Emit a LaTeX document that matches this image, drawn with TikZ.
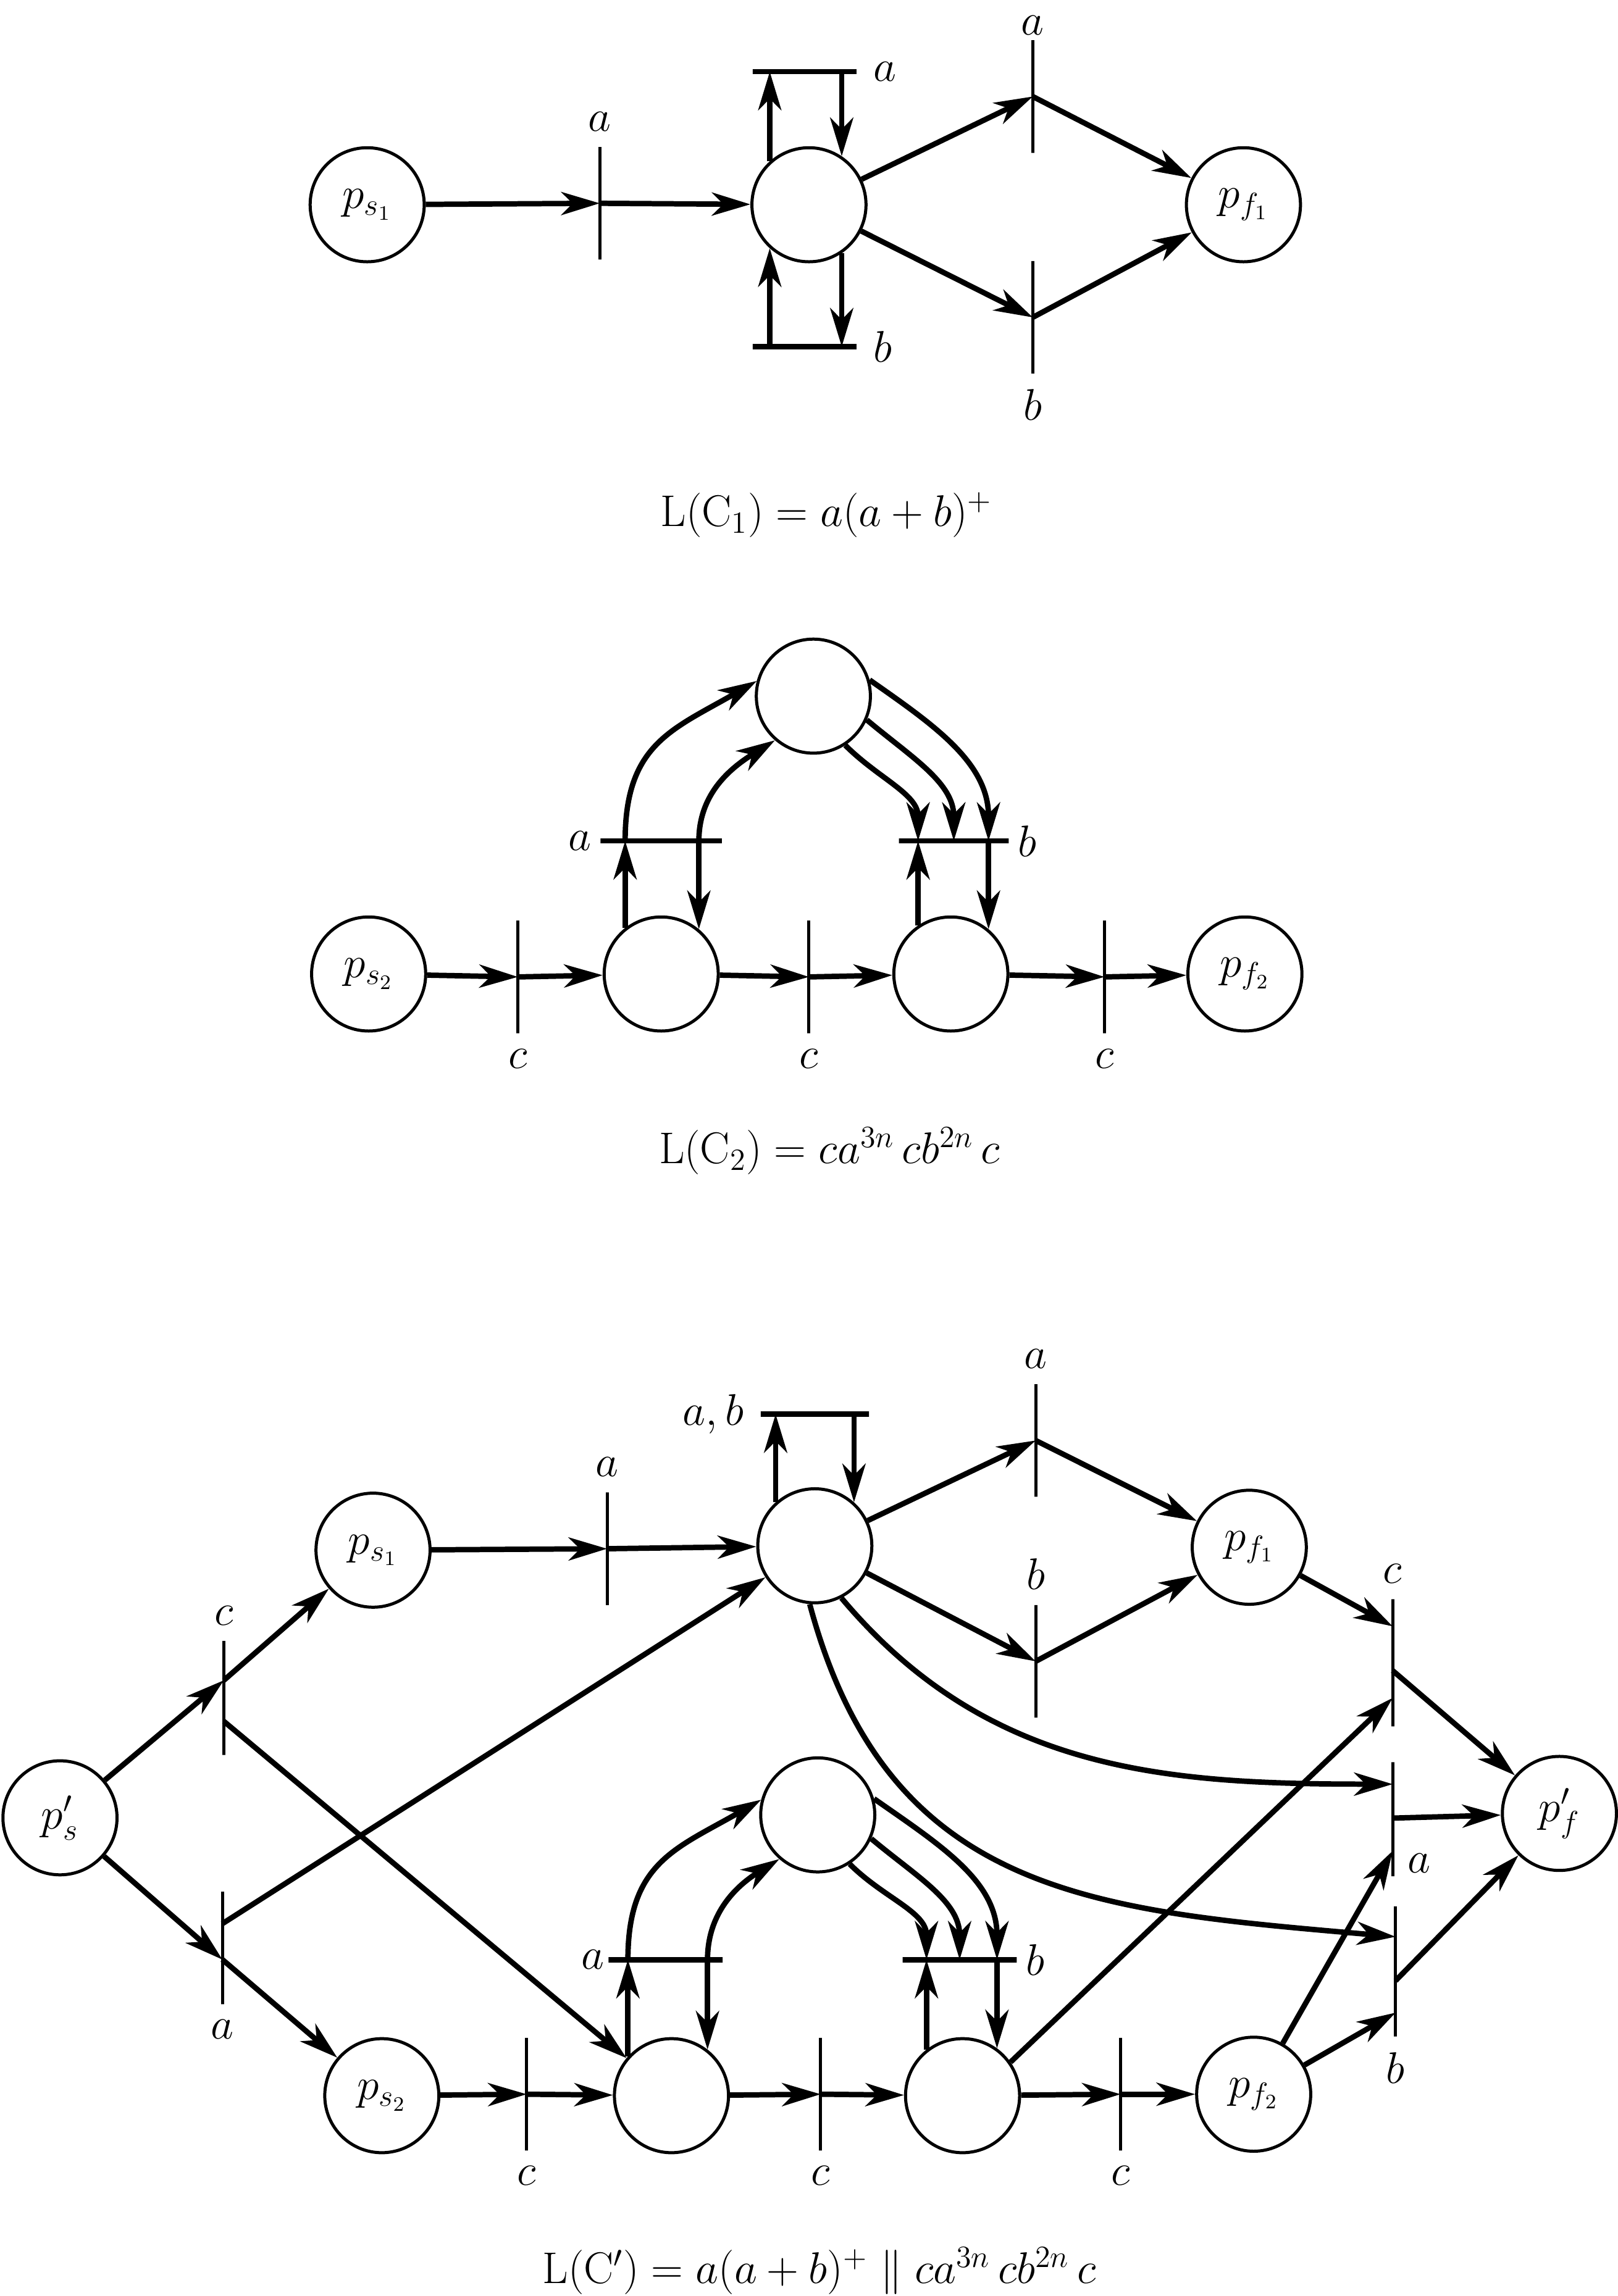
\documentclass[tikz,border=0pt]{standalone}
\usetikzlibrary{arrows.meta,calc}
\tikzstyle{place}=[circle,draw,line width=1.2pt,minimum size=1.56cm,inner sep=0pt]
\tikzstyle{tbar}=[draw,line width=1.2pt,minimum width=0pt,minimum height=1.54cm,inner sep=0pt]
\tikzstyle{lbar}=[draw,line width=2.1pt,minimum height=0pt,inner sep=0pt]
\tikzstyle{flow}=[line width=2.1pt,-{Stealth[length=15pt,width=9pt,inset=4.5pt]}]

\begin{document}
\begin{tikzpicture}[x=0.02cm,y=-0.02cm,font=\fontsize{17}{20}\selectfont,label distance=2pt]
\useasboundingbox (0,0) rectangle (1106,1570);

% net C_1
\node[place] (ps1) at (251,140) {$p_{s_1}$};
\node[tbar,label=above:$a$] (t1) at (410,139) {};
\node[place] (p1) at (553,140) {};
\node[lbar,minimum width=1.42cm,label=right:$a$] (lpa1) at (550,49) {};
\node[lbar,minimum width=1.42cm,label=right:$b$] (lpb1) at (550,237) {};
\node[tbar,label={[label distance=-2pt]above:$a$}] (ta1) at (706,66) {};
\node[tbar,label=below:$b$] (tb1) at (706,217) {};
\node[place] (pf1) at (850,140) {$p_{f_1}$};

\draw[flow] (ps1) -- (t1.center);
\draw[flow] (t1.center) -- (p1);
\draw[flow] (p1.132) -- (p1.132 |- lpa1.center);
\draw[flow] (p1.56 |- lpa1.center) -- (p1.56);
\draw[flow] (p1.228 |- lpb1.center) -- (p1.228);
\draw[flow] (p1.304) -- (p1.304 |- lpb1.center);
\foreach \t in {ta1,tb1}
  {\draw[flow] (p1) -- (\t.center);
   \draw[flow] (\t.center) -- (pf1);}

\node (lc1) at (565,352) {$\mathrm{L(C_1)} = a(a+b)^+$};

% net C_2
\node[place] (ps2) at (252,666) {$p_{s_2}$};
\node[tbar,label=below:$c$] (c21) at (354,668) {};
\node[place] (q21) at (452,666) {};
\node[tbar,label=below:$c$] (c22) at (553,668) {};
\node[place] (q22) at (650,666) {};
\node[tbar,label=below:$c$] (c23) at (755,668) {};
\node[place] (pf2) at (851,666) {$p_{f_2}$};
\node[place] (r2) at (556,476) {};
\node[lbar,minimum width=1.66cm,label={[label distance=-1pt]left:$a$}] (la2) at (452,575) {};
\node[lbar,minimum width=1.5cm,label={[label distance=-1pt]right:$b$}] (lb2) at (652,575) {};

\foreach \a/\b in {ps2/c21,q21/c22,q22/c23}
  \draw[flow] (\a) -- (\b.center);
\foreach \a/\b in {c21/q21,c22/q22,c23/pf2}
  \draw[flow] (\a.center) -- (\b);

\draw[flow] (q21.128) -- (q21.128 |- la2.center);
\draw[flow] (q21.128 |- la2.center) to[out=90,in=210,looseness=1.2] (r2.165);
\draw[flow] (q21.50 |- la2.center) to[out=90,in=212] (r2.229);
\draw[flow] (q21.50 |- la2.center) -- (q21.50);
\draw[flow] (r2.16) to[out=-35,in=90] (q22.50 |- lb2.center);
\draw[flow] (r2.336) to[out=-40,in=90] (lb2.center);
\draw[flow] (r2.303) to[out=-45,in=90] (q22.124 |- lb2.center);
\draw[flow] (q22.124) -- (q22.124 |- lb2.center);
\draw[flow] (q22.50 |- lb2.center) -- (q22.50);

\node (lc2) at (567,787) {$\mathrm{L(C_2)} = ca^{3n}\,cb^{2n}\,c$};

% net C'
\node[place] (psx) at (41,1243) {$p'_s$};
\node[tbar,minimum height=1.56cm,label=above:$c$] (tcs) at (153,1161) {};
\node[tbar,label=below:$a$] (tas) at (152,1332) {};
\node[place] (ps1x) at (255,1060) {$p_{s_1}$};
\node[place] (ps2x) at (261,1433) {$p_{s_2}$};
\node[tbar,label=above:$a$] (tax) at (415,1059) {};
\node[place] (p1x) at (557,1057) {};
\node[lbar,minimum width=1.48cm,label={left:$a, b$}] (lpx) at (557,967) {};
\node[tbar,label=above:$a$] (tax1) at (708,985) {};
\node[tbar,label=above:$b$] (tbx1) at (708,1136) {};
\node[place] (pf1x) at (854,1058) {$p_{f_1}$};
\node[tbar,minimum height=1.74cm,label=above:$c$] (tcf) at (952,1137) {};
\node[tbar,minimum height=1.56cm] (taf) at (952,1244) {};
\node (taflab) at (970,1274) {$a$};
\node[tbar,minimum height=1.78cm,label=below:$b$] (tbf) at (954,1348) {};
\node[place] (pfx) at (1066,1240) {$p'_f$};

\node[tbar,label=below:$c$] (c31) at (360,1432) {};
\node[place] (q31) at (459,1433) {};
\node[tbar,label=below:$c$] (c32) at (561,1432) {};
\node[place] (q32) at (658,1433) {};
\node[tbar,label=below:$c$] (c33) at (766,1432) {};
\node[place] (pf2x) at (857,1432) {$p_{f_2}$};
\node[place] (r3) at (559,1241) {};
\node[lbar,minimum width=1.56cm,label={[label distance=-3pt]left:$a$}] (la3) at (455,1340) {};
\node[lbar,minimum width=1.56cm,label={[label distance=-1pt]right:$b$}] (lb3) at (656,1340) {};

% start and the two halves
\draw[flow] (psx) -- ($(tcs.north)!.35!(tcs.south)$);
\draw[flow] ($(tcs.north)!.35!(tcs.south)$) -- (ps1x);
\draw[flow] ($(tcs.north)!.7!(tcs.south)$) -- (q31);
\draw[flow] (psx) -- ($(tas.north)!.6!(tas.south)$);
\draw[flow] ($(tas.north)!.6!(tas.south)$) -- (ps2x);
\draw[flow] ($(tas.north)!.29!(tas.south)$) -- (p1x);

\draw[flow] (ps1x) -- (tax.center);
\draw[flow] (tax.center) -- (p1x);
\draw[flow] (p1x.132) -- (p1x.132 |- lpx.center);
\draw[flow] (p1x.48 |- lpx.center) -- (p1x.48);
\foreach \t in {tax1,tbx1}
  {\draw[flow] (p1x) -- (\t.center);
   \draw[flow] (\t.center) -- (pf1x);}

\foreach \a/\b in {ps2x/c31,q31/c32,q32/c33}
  \draw[flow] (\a) -- (\b.center);
\foreach \a/\b in {c31/q31,c32/q32,c33/pf2x}
  \draw[flow] (\a.center) -- (\b);

\draw[flow] (q31.138) -- (q31.138 |- la3.center);
\draw[flow] (q31.138 |- la3.center) to[out=90,in=210,looseness=1.2] (r3.165);
\draw[flow] (q31.52 |- la3.center) to[out=90,in=212] (r3.229);
\draw[flow] (q31.52 |- la3.center) -- (q31.52);
\draw[flow] (r3.16) to[out=-35,in=90] (q32.54 |- lb3.center);
\draw[flow] (r3.336) to[out=-40,in=90] (lb3.center);
\draw[flow] (r3.303) to[out=-45,in=90] (q32.128 |- lb3.center);
\draw[flow] (q32.128) -- (q32.128 |- lb3.center);
\draw[flow] (q32.54 |- lb3.center) -- (q32.54);

% end
\draw[flow] (pf1x) -- ($(tcf.north)!.22!(tcf.south)$);
\draw[flow] (q32.35) -- ($(tcf.north)!.77!(tcf.south)$);
\draw[flow] ($(tcf.north)!.56!(tcf.south)$) -- (pfx);
\draw[flow] (p1x.297) to[out=-50,in=180] ($(taf.north)!.2!(taf.south)$);
\draw[flow] (pf2x) -- ($(taf.north)!.77!(taf.south)$);
\draw[flow] ($(taf.north)!.49!(taf.south)$) -- (pfx);
\draw[flow] (p1x.265) to[out=-75,in=175,looseness=1.15] ($(tbf.north)!.24!(tbf.south)$);
\draw[flow] (pf2x) -- ($(tbf.north)!.81!(tbf.south)$);
\draw[flow] ($(tbf.north)!.57!(tbf.south)$) -- (pfx);

\node (lcx) at (560,1553) {$\mathrm{L(C')} = a(a+b)^+ \;\|\; ca^{3n}\,cb^{2n}\,c$};
\end{tikzpicture}
\end{document}
